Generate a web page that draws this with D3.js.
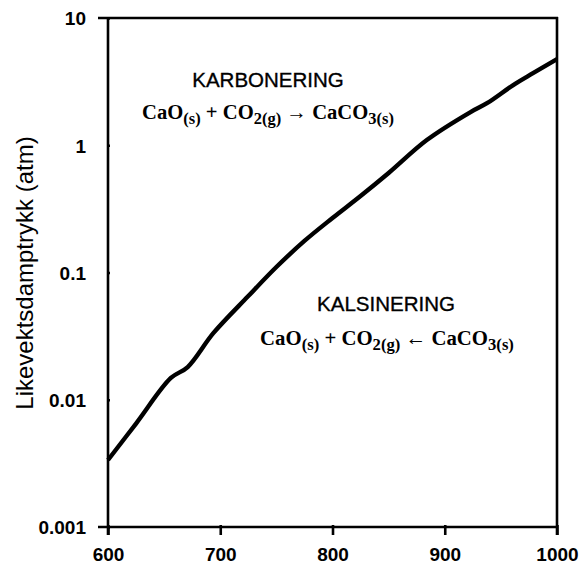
<!DOCTYPE html>
<html>
<head>
<meta charset="utf-8">
<script src="https://cdn.jsdelivr.net/npm/d3@7"></script>
<style>
  html, body { margin: 0; padding: 0; background: #fff; }
  svg { display: block; }
  .tick text { font-family: "Liberation Sans", Arial, Helvetica, sans-serif; font-weight: bold; font-size: 19px; fill: #000; }
</style>
</head>
<body>
<svg id="chart" width="580" height="566"></svg>
<script>
// Temperature (°C) and equilibrium CO2 pressure over CaCO3 (atm)
const temperatures = [600, 625, 656, 671, 694, 725, 750, 775, 800, 825, 850, 884, 923, 938, 961, 979, 1000];
const pressures = [0.00336, 0.0065, 0.01483, 0.01807, 0.0335, 0.0653, 0.1104, 0.177, 0.268, 0.399, 0.605, 1.099, 1.824, 2.148, 2.972, 3.70, 4.76];

const xTicks = [600, 700, 800, 900, 1000];
const xTickLabels = ["600", "700", "800", "900", "1000"];
const yTicks = [0.001, 0.01, 0.1, 1, 10];
const yTickLabels = ["0.001", "0.01", "0.1", "1", "10"];

const yTitle = "Likevektsdamptrykk (atm)";
const regionTitles = ["KARBONERING", "KALSINERING"];

const plotLeft = 108, plotRight = 557, plotTop = 18, plotBottom = 527;

const svg = d3.select("#chart");

const x = d3.scaleLinear().domain([600, 1000]).range([plotLeft, plotRight]);
const y = d3.scaleLog().domain([0.001, 10]).range([plotBottom, plotTop]);

const strokeW = 2.6;

// y axis
const yAxis = svg.append("g")
  .attr("transform", `translate(${plotLeft},0)`)
  .call(d3.axisLeft(y).tickValues(yTicks).tickFormat((d, i) => yTickLabels[i]).tickSize(10).tickPadding(12));
yAxis.select(".domain").remove();
yAxis.selectAll(".tick line").attr("stroke", "#000").attr("stroke-width", strokeW).attr("x2", 2);
yAxis.selectAll(".tick text").attr("dy", "0.36em");

// x axis
const xAxis = svg.append("g")
  .attr("transform", `translate(0,${plotBottom})`)
  .call(d3.axisBottom(x).tickValues(xTicks).tickFormat((d, i) => xTickLabels[i]).tickSize(8).tickPadding(13));
xAxis.select(".domain").remove();
xAxis.selectAll(".tick line").attr("stroke", "#000").attr("stroke-width", strokeW).attr("y1", -2);
xAxis.selectAll(".tick text").attr("dy", "0.71em");

// frame: left axis, bottom axis, top border, right border
const frame = svg.append("g").attr("stroke", "#000").attr("stroke-width", strokeW).attr("fill", "none");
frame.append("line").attr("x1", plotLeft).attr("x2", plotLeft).attr("y1", plotTop - 1).attr("y2", plotBottom + 8);
frame.append("line").attr("x1", plotLeft - 10).attr("x2", plotRight + 1).attr("y1", plotBottom).attr("y2", plotBottom);
frame.append("line").attr("x1", plotLeft - 10).attr("x2", plotRight + 1).attr("y1", plotTop).attr("y2", plotTop);
frame.append("line").attr("x1", plotRight).attr("x2", plotRight).attr("y1", plotTop - 1).attr("y2", plotBottom + 8);

// equilibrium curve
const line = d3.line()
  .x((d, i) => x(temperatures[i]))
  .y(d => y(d))
  .curve(d3.curveCatmullRom.alpha(0.5));
svg.append("path")
  .datum(pressures)
  .attr("fill", "none")
  .attr("stroke", "#000")
  .attr("stroke-width", 4.4)
  .attr("stroke-linejoin", "round")
  .attr("d", line);

// y axis title
svg.append("text")
  .attr("transform", "translate(33,273) rotate(-90)")
  .attr("text-anchor", "middle")
  .attr("font-family", "'Liberation Sans', Arial, Helvetica, sans-serif")
  .attr("font-size", 24)
  .text(yTitle);

// region labels
const regionLabel = (txt, cx, by) => svg.append("text")
  .attr("x", cx).attr("y", by)
  .attr("text-anchor", "middle")
  .attr("font-family", "'Liberation Sans', Arial, Helvetica, sans-serif")
  .attr("font-size", 20.5)
  .attr("stroke", "#000").attr("stroke-width", 0.35)
  .text(txt);
regionLabel(regionTitles[0], 268, 87);
regionLabel(regionTitles[1], 386, 311);

// reaction equations with subscripts
function equation(parts, cx, by, targetW) {
  const t = svg.append("text")
    .attr("y", by)
    .attr("font-family", "'Liberation Serif', 'Times New Roman', serif")
    .attr("font-weight", "bold")
    .attr("font-size", 20);
  let shifted = false;
  parts.forEach(([s, sub]) => {
    const ts = t.append("tspan").text(s);
    if (sub && !shifted) { ts.attr("font-size", "0.8em").attr("dy", "0.28em"); shifted = true; }
    else if (!sub && shifted) { ts.attr("dy", "-0.224em"); shifted = false; }
    else if (sub) { ts.attr("font-size", "0.8em"); }
  });
  const w = t.node().getComputedTextLength();
  const fs = 20 * targetW / w;
  t.attr("font-size", fs);
  const w2 = t.node().getComputedTextLength();
  t.attr("x", cx - w2 / 2);
  return t;
}
equation([["CaO", false], ["(s)", true], [" + CO", false], ["2(g)", true], [" \u2192 CaCO", false], ["3(s)", true]], 268, 119, 252);
equation([["CaO", false], ["(s)", true], [" + CO", false], ["2(g)", true], [" \u2190 CaCO", false], ["3(s)", true]], 387, 345, 254);
</script>
</body>
</html>
